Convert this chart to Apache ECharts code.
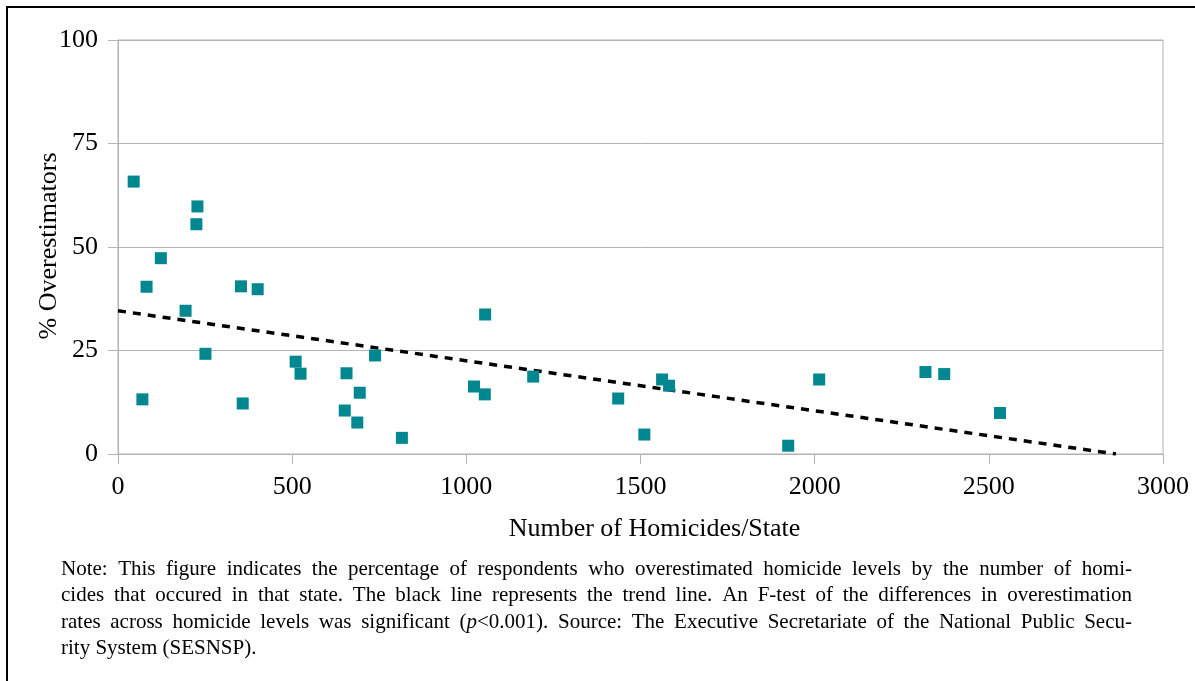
<!DOCTYPE html>
<html>
<head>
<meta charset="utf-8">
<script src="https://cdn.jsdelivr.net/npm/echarts@6/dist/echarts.min.js"></script>
<style>
html,body{margin:0;padding:0;background:#fff;}
#chart{width:1195px;height:681px;}
</style>
</head>
<body>
<div id="chart"></div>
<script>
// Data
var homicides = [45,70,82,123,194,228,225,251,353,358,401,510,524,651,656,687,694,738,815,1022,1053,1054,1192,1436,1511,1562,1582,1924,2013,2318,2372,2532];
var overestimators = [65.8,13.2,40.4,47.3,34.6,59.8,55.5,24.2,40.5,12.2,39.8,22.3,19.4,10.5,19.5,7.6,14.8,23.8,3.9,16.3,14.4,33.7,18.7,13.4,4.7,18.0,16.5,2.0,18.0,19.8,19.3,9.9];
var trendX = [0, 2865];
var trendY = [34.6, 0];
var xTicks = [0, 500, 1000, 1500, 2000, 2500, 3000];
var yTicks = [0, 25, 50, 75, 100];
var xTitle = 'Number of Homicides/State';
var yTitle = '% Overestimators';
var noteLines = [
  'Note: This figure indicates the percentage of respondents who overestimated homicide levels by the number of homi-',
  'cides that occured in that state. The black line represents the trend line. An F-test of the differences in overestimation',
  'rates across homicide levels was significant (p<0.001). Source: The Executive Secretariate of the National Public Secu-',
  'rity System (SESNSP).'
];
var noteJustified = [true, true, true, false];

var FONT = '"Liberation Serif", "Times New Roman", serif';
var GRID = '#b3b3b3';
var NOTE_SIZE = 21;
var NOTE_LEFT = 61, NOTE_RIGHT = 1132;

var points = homicides.map(function(h, i){ return [h, overestimators[i]]; });
var trend = trendX.map(function(x, i){ return [x, trendY[i]]; });

var mctx = document.createElement('canvas').getContext('2d');
function measure(t, italic){
  mctx.font = (italic ? 'italic ' : '') + NOTE_SIZE + 'px ' + FONT;
  return mctx.measureText(t).width;
}
function wordWidth(w){
  if (w.indexOf('(p<') === 0) {
    return measure('(') + measure('p', true) + measure(w.slice(2));
  }
  return measure(w);
}
function wordRich(w){
  if (w.indexOf('(p<') === 0) {
    return '(' + '{it|p}' + w.slice(2);
  }
  return w;
}

var noteGraphics = noteLines.map(function(line, i){
  var words = line.split(' ');
  var gap = measure(' ');
  if (noteJustified[i]) {
    var total = 0;
    words.forEach(function(w){ total += wordWidth(w); });
    gap = (NOTE_RIGHT - NOTE_LEFT - total) / (words.length - 1);
  }
  var txt = words.map(wordRich).join('{s| }');
  var st = {
    text: txt, x: NOTE_LEFT, y: 569 + i * 26.5,
    fontFamily: FONT, fontSize: NOTE_SIZE, fill: '#000', verticalAlign: 'middle',
    rich: {
      it: { fontStyle: 'italic', fontFamily: FONT, fontSize: NOTE_SIZE, fill: '#000' },
      s: { width: gap, fontFamily: FONT, fontSize: NOTE_SIZE }
    }
  };
  return { type: 'text', style: st, silent: true };
});

var chart = echarts.init(document.getElementById('chart'), null, {renderer: 'canvas'});
chart.setOption({
  animation: false,
  backgroundColor: '#fff',
  grid: { left: 118, right: 32, top: 40, bottom: 227, show: true, borderColor: GRID, borderWidth: 1 },
  xAxis: {
    type: 'value', min: xTicks[0], max: xTicks[xTicks.length-1], interval: xTicks[1]-xTicks[0],
    name: xTitle, nameLocation: 'middle', nameGap: 62,
    nameTextStyle: { fontFamily: FONT, fontSize: 26, color: '#000', padding: [0,0,0,28] },
    axisLine: { show: true, lineStyle: { color: GRID, width: 1 } },
    axisTick: { show: true, length: 10, lineStyle: { color: GRID } },
    axisLabel: { fontFamily: FONT, fontSize: 26, color: '#000', margin: 20, formatter: function(v){ return String(v); } },
    splitLine: { show: false }
  },
  yAxis: {
    type: 'value', min: yTicks[0], max: yTicks[yTicks.length-1], interval: yTicks[1]-yTicks[0],
    axisLine: { show: true, lineStyle: { color: GRID, width: 1 } },
    axisTick: { show: true, length: 10, lineStyle: { color: GRID } },
    axisLabel: { fontFamily: FONT, fontSize: 26, color: '#000', margin: 20, formatter: function(v){ return String(v); } },
    splitLine: { show: true, lineStyle: { color: GRID, width: 1 } }
  },
  series: [
    {
      type: 'line', data: trend, symbol: 'none', silent: true,
      lineStyle: { color: '#000', width: 3.5, type: [8, 7] }, z: 3
    },
    {
      type: 'scatter', data: points, symbol: 'rect', symbolSize: 12,
      itemStyle: { color: '#00878f', opacity: 1 }, z: 4
    }
  ],
  graphic: [
    { type: 'line', shape: { x1: 7, y1: 6, x2: 7, y2: 681 }, style: { stroke: '#000', lineWidth: 2 }, silent: true },
    { type: 'line', shape: { x1: 6, y1: 7, x2: 1195, y2: 7 }, style: { stroke: '#000', lineWidth: 2 }, silent: true },
    { type: 'text', x: 49, y: 246, rotation: Math.PI / 2, silent: true,
      style: { text: yTitle, fontFamily: FONT, fontSize: 26, fill: '#000', align: 'center', verticalAlign: 'middle' } }
  ].concat(noteGraphics)
});
</script>
</body>
</html>
